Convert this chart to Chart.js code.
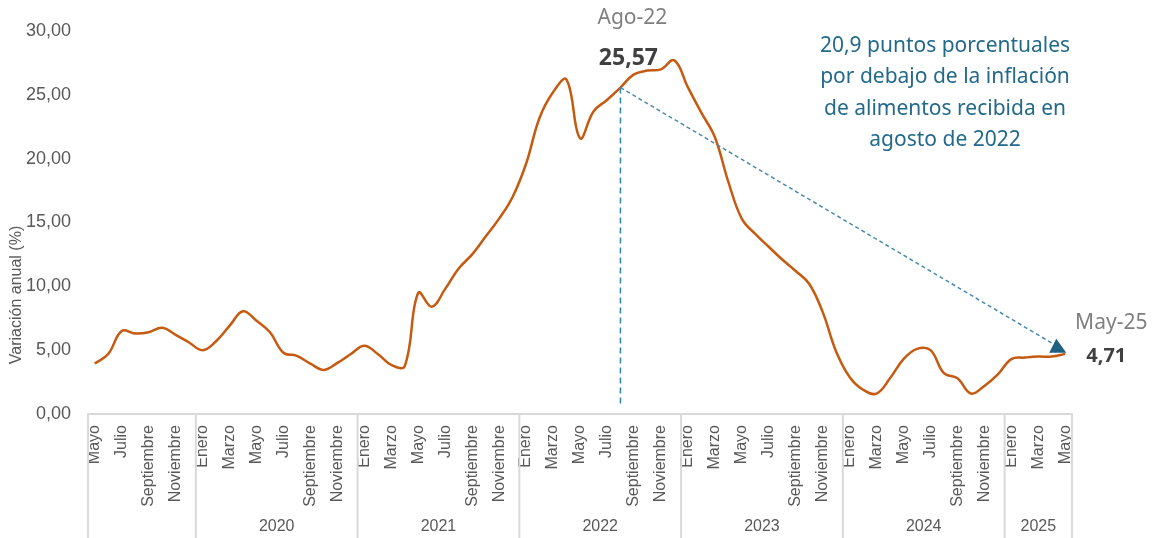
<!DOCTYPE html>
<html>
<head>
<meta charset="utf-8">
<script src="https://cdn.jsdelivr.net/npm/chart.js@4/dist/chart.umd.min.js"></script>
<style>
  html, body { margin: 0; padding: 0; background: #fff; }
  #chart { display: block; }
</style>
</head>
<body>
<canvas id="chart" width="1155" height="538"></canvas>
<script>
// Month labels, May 2019 - May 2025
const months = [
  'Mayo', 'Junio', 'Julio', 'Agosto', 'Septiembre', 'Octubre', 'Noviembre', 'Diciembre',
  'Enero', 'Febrero', 'Marzo', 'Abril', 'Mayo', 'Junio', 'Julio', 'Agosto', 'Septiembre', 'Octubre', 'Noviembre', 'Diciembre',
  'Enero', 'Febrero', 'Marzo', 'Abril', 'Mayo', 'Junio', 'Julio', 'Agosto', 'Septiembre', 'Octubre', 'Noviembre', 'Diciembre',
  'Enero', 'Febrero', 'Marzo', 'Abril', 'Mayo', 'Junio', 'Julio', 'Agosto', 'Septiembre', 'Octubre', 'Noviembre', 'Diciembre',
  'Enero', 'Febrero', 'Marzo', 'Abril', 'Mayo', 'Junio', 'Julio', 'Agosto', 'Septiembre', 'Octubre', 'Noviembre', 'Diciembre',
  'Enero', 'Febrero', 'Marzo', 'Abril', 'Mayo', 'Junio', 'Julio', 'Agosto', 'Septiembre', 'Octubre', 'Noviembre', 'Diciembre',
  'Enero', 'Febrero', 'Marzo', 'Abril', 'Mayo'
];

// Year groups under the month labels (first group has no label in the original)
const yearLabels = ['', '2020', '2021', '2022', '2023', '2024', '2025'];
const yearCounts = [8, 12, 12, 12, 12, 12, 5];

// Variación anual (%)
const inflation = [
  3.95, 4.7, 6.5, 6.3, 6.4, 6.75, 6.2, 5.6,
  5.0, 5.7, 6.9, 8.05, 7.3, 6.4, 4.8, 4.55, 3.95, 3.45, 4.0, 4.7,
  5.35, 4.7, 3.85, 3.75, 9.5, 8.4, 9.8, 11.4, 12.5, 13.9, 15.3, 17.0,
  19.6, 23.2, 25.2, 26.2, 21.6, 23.7, 24.6, 25.57, 26.6, 26.9, 27.0, 27.7,
  25.6, 23.6, 21.7, 18.2, 15.3, 14.1, 13.1, 12.1, 11.2, 10.2, 8.0, 4.9,
  2.9, 1.9, 1.6, 2.8, 4.3, 5.1, 5.0, 3.2, 2.8, 1.6, 2.2, 3.1,
  4.3, 4.42, 4.5, 4.5, 4.71
];

const yTicks = [0, 5, 10, 15, 20, 25, 30];

// highlighted points
const peakIndex = 39;   // Ago-22
const lastIndex = 72;   // May-25
const noteLines = [
  '20,9 puntos porcentuales',
  'por debajo de la inflación',
  'de alimentos recibida en',
  'agosto de 2022'
];

const axisFont = '"Liberation Sans", Arial, sans-serif';
const noteFont = '"Noto Sans", "Open Sans", sans-serif';

function fmt(v) {
  return v.toFixed(2).replace('.', ',');
}

// Year boxes, axis title and the Ago-22 -> May-25 annotation
const extras = {
  id: 'extras',
  afterDraw(chart) {
    const { ctx, chartArea, scales: { x, y } } = chart;
    const half = (x.getPixelForValue(1) - x.getPixelForValue(0)) / 2;

    ctx.save();

    // vertical separators + year labels
    ctx.strokeStyle = '#d9d9d9';
    ctx.lineWidth = 2;
    let start = 0;
    const edges = [x.getPixelForValue(0) - half];
    yearCounts.forEach((n, i) => {
      const end = start + n;
      const left = x.getPixelForValue(start) - half;
      const right = x.getPixelForValue(end - 1) + half;
      edges.push(right);
      ctx.fillStyle = '#595959';
      ctx.font = '16px ' + axisFont;
      ctx.textAlign = 'center';
      ctx.textBaseline = 'middle';
      ctx.fillText(yearLabels[i], (left + right) / 2, 527);
      start = end;
    });
    edges.forEach(ex => {
      ctx.beginPath();
      ctx.moveTo(ex, chartArea.bottom);
      ctx.lineTo(ex, chart.height);
      ctx.stroke();
    });

    // y axis title
    ctx.save();
    ctx.translate(17, 295);
    ctx.rotate(-Math.PI / 2);
    ctx.fillStyle = '#595959';
    ctx.font = '16px ' + axisFont;
    ctx.textAlign = 'center';
    ctx.textBaseline = 'middle';
    ctx.fillText('Variación anual (%)', 0, 0);
    ctx.restore();

    const px = x.getPixelForValue(peakIndex);
    const py = y.getPixelForValue(inflation[peakIndex]);
    const lx = x.getPixelForValue(lastIndex);
    const ly = y.getPixelForValue(inflation[lastIndex]);

    // vertical dashed drop line
    ctx.strokeStyle = '#2e86b8';
    ctx.lineWidth = 1.5;
    ctx.setLineDash([6, 4]);
    ctx.beginPath();
    ctx.moveTo(px, py);
    ctx.lineTo(px, chartArea.bottom - 9);
    ctx.stroke();

    // diagonal dashed arrow
    const tx = lx - 7, ty = ly - 7;
    ctx.strokeStyle = '#4a8ab0';
    ctx.setLineDash([4, 3]);
    ctx.beginPath();
    ctx.moveTo(px, py);
    ctx.lineTo(tx - 5, ty - 3);
    ctx.stroke();
    ctx.setLineDash([]);
    ctx.fillStyle = '#1f5f7f';
    ctx.beginPath();
    ctx.moveTo(tx - 2, ty - 8);
    ctx.lineTo(tx + 8, ty + 6);
    ctx.lineTo(tx - 9, ty + 6);
    ctx.closePath();
    ctx.fill();

    // labels
    ctx.textAlign = 'center';
    ctx.textBaseline = 'middle';
    ctx.fillStyle = '#7f7f7f';
    ctx.font = '21px ' + noteFont;
    ctx.fillText('Ago-22', px + 12, 18);
    ctx.fillText('May-25', lx + 46, 323);

    ctx.fillStyle = '#404040';
    ctx.font = 'bold 23px ' + noteFont;
    ctx.fillText(fmt(inflation[peakIndex]), px + 8, 58);
    ctx.font = 'bold 20px ' + noteFont;
    ctx.fillText(fmt(inflation[lastIndex]), lx + 41, 356);

    ctx.fillStyle = '#23698c';
    ctx.font = '21px ' + noteFont;
    noteLines.forEach((t, i) => {
      ctx.fillText(t, 945, 46 + i * 31.5);
    });

    ctx.restore();
  }
};

new Chart(document.getElementById('chart'), {
  type: 'line',
  data: {
    labels: months,
    datasets: [{
      data: inflation,
      borderColor: '#c55a11',
      borderWidth: 2.5,
      pointRadius: 0,
      tension: 0.4,
      fill: false
    }]
  },
  options: {
    responsive: false,
    animation: false,
    devicePixelRatio: 1,
    layout: { padding: { top: 31, right: 83, left: 0, bottom: 0 } },
    plugins: {
      legend: { display: false },
      tooltip: { enabled: false }
    },
    scales: {
      x: {
        offset: true,
        grid: { display: false },
        border: { display: true, color: '#d9d9d9', width: 2 },
        ticks: {
          autoSkip: false,
          minRotation: 90,
          maxRotation: 90,
          padding: 3,
          color: '#595959',
          font: { family: axisFont, size: 16 },
          callback: (v, i) => (i % 2 === 0 ? months[i] : '')
        },
        afterFit: s => { s.height = 124; }
      },
      y: {
        min: 0,
        max: 30,
        afterBuildTicks: s => { s.ticks = yTicks.map(v => ({ value: v })); },
        grid: { display: false },
        border: { display: false },
        ticks: {
          padding: 9,
          color: '#595959',
          font: { family: axisFont, size: 18 },
          callback: v => fmt(v)
        },
        afterFit: s => { s.width = 88; }
      }
    }
  },
  plugins: [extras]
});
</script>
</body>
</html>
